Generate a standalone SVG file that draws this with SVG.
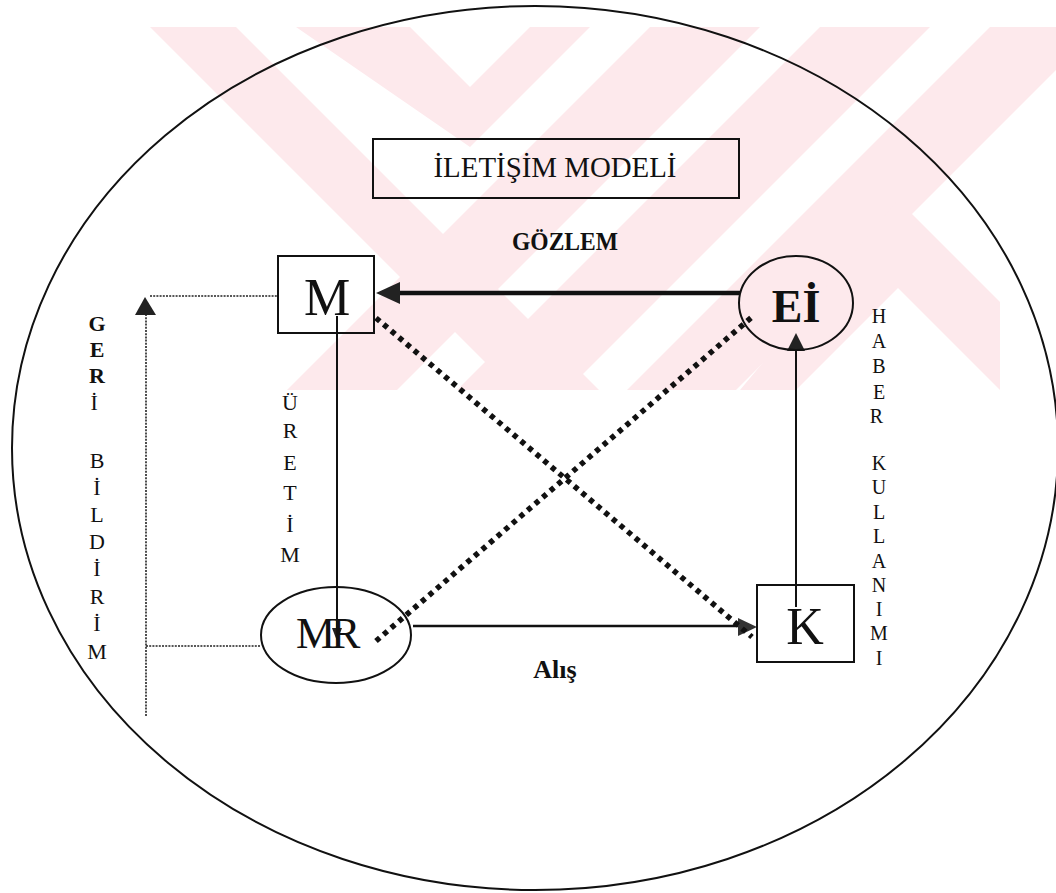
<svg xmlns="http://www.w3.org/2000/svg" width="1056" height="893" viewBox="0 0 1056 893">
<style>
.t{font-family:"Liberation Serif","Times New Roman",serif;fill:#111}
.b{font-weight:bold}
.ln{stroke:#111;fill:none}
.dot{stroke:#111;fill:none;stroke-width:5.5;stroke-dasharray:5 5}
.fb{stroke:#222;fill:none;stroke-width:1.6;stroke-dasharray:2 1.2}
.wm{fill:#fde9ec}
</style>
<defs>
<clipPath id="wmclip"><rect x="0" y="27" width="1056" height="363"/></clipPath>
</defs>
<rect width="1056" height="893" fill="#fff"/>
<g id="watermark" clip-path="url(#wmclip)">
<polygon class="wm" points="150,27 236,27 599,390 513,390"/>
<polygon class="wm" points="296,27 410,27 470,87 530,27 590,27 470,147"/>
<polygon class="wm" points="650,27 760,27 397,390 287,390"/>
<polygon class="wm" points="820,27 930,27 567,390 457,390"/>
<polygon class="wm" points="990,27 1056,27 1056,70 736,390 627,390"/>
<polygon class="wm" points="898,200 1000,302 1000,390 898,288 796,390 740,390"/>
</g>
<ellipse cx="535" cy="448" rx="523" ry="442" class="ln" stroke-width="2"/>
<g id="title">
<rect x="373" y="139" width="366" height="59" class="ln" stroke-width="2"/>
<text class="t" x="555" y="177" font-size="29" text-anchor="middle" textLength="243" lengthAdjust="spacingAndGlyphs">İLETİŞİM MODELİ</text>
</g>
<g id="connectors">
<line x1="740" y1="293" x2="398" y2="293" class="ln" stroke-width="4.5"/>
<polygon points="376,293 400,282 400,304" fill="#222"/>
<line x1="796" y1="607" x2="796" y2="348" class="ln" stroke-width="2"/>
<polygon points="796,333 787,351 805,351" fill="#222"/>
<line x1="337" y1="316" x2="337" y2="632" class="ln" stroke-width="2"/>
<polygon points="337,641 332,628 342,628" fill="#222"/>
<line x1="413" y1="626" x2="740" y2="626" class="ln" stroke-width="2.5"/>
<polygon points="757,627 738,618 738,636" fill="#333"/>
<line x1="376" y1="318" x2="752" y2="637" class="dot"/>
<line x1="376" y1="641" x2="752" y2="317" class="dot"/>
<polyline points="260,646 146,646" class="fb"/>
<polyline points="146,716 146,312" class="fb"/>
<polygon points="145,297 135,315 156,315" fill="#222"/>
<polyline points="150,296 277,296" class="fb"/>
</g>
<g id="node-M">
<rect x="278" y="256" width="96" height="77" fill="none" class="ln" stroke-width="2"/>
<text class="t" x="327" y="315" font-size="52" text-anchor="middle">M</text>
</g>
<g id="node-EI">
<ellipse cx="796" cy="303" rx="57" ry="47" class="ln" stroke-width="2"/>
<text class="t b" x="796" y="322" font-size="46" text-anchor="middle">Eİ</text>
</g>
<g id="node-MR">
<ellipse cx="336" cy="635" rx="75" ry="48" class="ln" stroke-width="2"/>
<text class="t" x="296" y="648" font-size="44" letter-spacing="-4">MR</text>
</g>
<g id="node-K">
<rect x="757" y="585" width="97" height="77" class="ln" stroke-width="2"/>
<text class="t" x="805" y="644" font-size="52" text-anchor="middle">K</text>
</g>
<g id="labels">
<text class="t b" x="565" y="250" font-size="25" text-anchor="middle" textLength="106" lengthAdjust="spacingAndGlyphs">GÖZLEM</text>
<text class="t b" x="555" y="678" font-size="26" text-anchor="middle">Alış</text>
<text class="t" font-size="22" text-anchor="middle">
<tspan class="b" x="97" y="331">G</tspan><tspan class="b" x="97" y="357">E</tspan><tspan class="b" x="97" y="383">R</tspan><tspan x="97" y="410">İ</tspan>
<tspan x="97" y="468">B</tspan><tspan x="97" y="495">İ</tspan><tspan x="97" y="522">L</tspan><tspan x="97" y="549">D</tspan><tspan x="97" y="576">İ</tspan><tspan x="97" y="604">R</tspan><tspan x="97" y="631">İ</tspan><tspan x="97" y="659">M</tspan>
</text>
<text class="t" font-size="22" text-anchor="middle">
<tspan x="290" y="410">Ü</tspan><tspan x="290" y="438">R</tspan><tspan x="290" y="470">E</tspan><tspan x="290" y="500">T</tspan><tspan x="290" y="532">İ</tspan><tspan x="290" y="562">M</tspan>
</text>
<text class="t" font-size="20" text-anchor="middle">
<tspan x="879" y="323">H</tspan><tspan x="879" y="348">A</tspan><tspan x="879" y="373">B</tspan><tspan x="879" y="399">E</tspan><tspan x="879" y="423">R</tspan>
<tspan x="879" y="470">K</tspan><tspan x="879" y="494">U</tspan><tspan x="879" y="519">L</tspan><tspan x="879" y="543">L</tspan><tspan x="879" y="568">A</tspan><tspan x="879" y="592">N</tspan><tspan x="879" y="616">I</tspan><tspan x="879" y="640">M</tspan><tspan x="879" y="665">I</tspan>
</text>
</g>
</svg>
